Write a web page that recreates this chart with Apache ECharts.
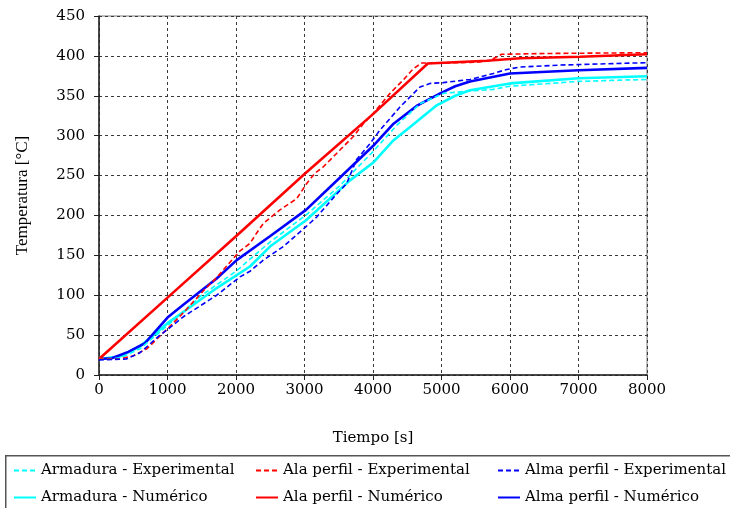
<!DOCTYPE html>
<html>
<head>
<meta charset="utf-8">
<script src="https://cdn.jsdelivr.net/npm/echarts@6/dist/echarts.min.js"></script>
<style>
  html, body { margin: 0; padding: 0; background: #ffffff; }
  #grafico { width: 730px; height: 508px; }
</style>
</head>
<body>
<div id="grafico"></div>
<script>
// Ejes
const tiempoMin = 0, tiempoMax = 8000, tiempoPaso = 1000;
const tempMin = 0, tempMax = 450, tempPaso = 50;

// Armadura - Experimental
const armaduraExpT = [0, 300, 600, 1000, 1500, 2000, 2500, 3000, 3500, 4000, 4346, 4686, 5026, 5416, 5756, 6000, 7000, 8000];
const armaduraExpV = [20, 21, 33, 62, 100, 130, 167, 199, 236, 280, 313, 340, 353, 356, 358, 362, 368, 370.5];

// Armadura - Numérico
const armaduraNumT = [0, 300, 600, 1000, 1231, 1718, 2204, 2496, 3022, 3664, 4000, 4297, 4600, 4930, 5200, 5416, 6000, 7000, 8000];
const armaduraNumV = [20, 23, 36, 65, 79, 109, 136, 161, 194, 244, 266, 294, 315, 338, 350, 357, 365.5, 372, 374.5];

// Ala perfil - Experimental
const alaExpT = [0, 300, 500, 700, 1000, 1231, 1572, 1718, 2050, 2204, 2302, 2399, 2642, 2886, 3032, 3153, 3275, 3518, 3713, 3859, 4004, 4248, 4443, 4589, 4710, 5000, 5500, 5700, 5879, 6500, 8000];
const alaExpV = [20, 20, 24, 33, 58, 78, 110, 122, 155, 165, 178, 190, 207, 221, 240, 253, 261, 282, 299, 315, 328, 353, 370, 384, 391, 391, 392, 394, 402, 403, 404];

// Ala perfil - Numérico
const alaNumT = [0, 1000, 2000, 3000, 4000, 4800, 5660, 6146, 7022, 8000];
const alaNumV = [20, 97, 174, 252, 327, 390.5, 394, 397, 399, 402];

// Alma perfil - Experimental
const almaExpT = [0, 400, 600, 890, 1000, 1231, 1718, 2058, 2204, 2399, 2691, 3022, 3178, 3450, 3616, 3760, 3956, 4102, 4394, 4686, 4832, 5026, 5416, 5756, 5952, 6146, 6730, 8000];
const almaExpV = [19, 20, 28, 50, 57, 73, 100, 123, 130, 144, 161, 186, 198, 225, 240, 270, 290, 307, 336, 361, 365.5, 366.5, 370.5, 378, 383, 386, 388.5, 391.5];

// Alma perfil - Numérico
const almaNumT = [0, 185, 428, 672, 1000, 1231, 1718, 2010, 2496, 3022, 3500, 4000, 4300, 4650, 4980, 5200, 5416, 6000, 7000, 8000];
const almaNumV = [20, 21, 29, 40, 72, 88, 121, 144, 174, 207, 246, 287, 315, 338, 353, 362, 368, 378, 382, 385];

const pares = (ts, vs) => ts.map((t, i) => [t, vs[i]]);

const CIAN = '#00FFFF', ROJO = '#FF0000', AZUL = '#0000FF';
const fuente = 'DejaVu Serif';

function serie(nombre, ts, vs, color, discontinua) {
  return {
    name: nombre,
    type: 'line',
    data: pares(ts, vs),
    symbol: 'none',
    smooth: false,
    animation: false,
    color: color,
    lineStyle: discontinua
      ? { color: color, width: 1.6, type: [5, 3] }
      : { color: color, width: 2.6, type: 'solid' },
    z: discontinua ? 3 : 2
  };
}

// Cada columna de la leyenda: experimental arriba, numérico abajo
function columna(x, nombres) {
  return {
    orient: 'vertical',
    left: x,
    top: 463,
    padding: 0,
    height: 45,
    itemWidth: 22,
    itemHeight: 14,
    itemGap: 12,
    selectedMode: false,
    itemStyle: { opacity: 0 },
    textStyle: { fontFamily: fuente, fontSize: 15, color: '#000' },
    data: nombres
  };
}

const sinSeparador = v => String(v);

const chart = echarts.init(document.getElementById('grafico'), null, { renderer: 'canvas' });
chart.setOption({
  backgroundColor: '#ffffff',
  animation: false,
  grid: {
    left: 99, right: 83, top: 16, bottom: 133,
    show: true, borderColor: '#7a7a7a', borderWidth: 1, backgroundColor: 'transparent'
  },
  xAxis: {
    type: 'value',
    min: tiempoMin, max: tiempoMax, interval: tiempoPaso,
    name: 'Tiempo [s]',
    nameLocation: 'middle',
    nameGap: 56,
    nameTextStyle: { fontFamily: fuente, fontSize: 15, color: '#000' },
    axisLine: { show: true, onZero: false, lineStyle: { color: '#222', width: 1.5 } },
    axisTick: { show: true, inside: false, length: 5, lineStyle: { color: '#222' } },
    axisLabel: { margin: 8, fontFamily: fuente, fontSize: 15, color: '#000', formatter: sinSeparador },
    splitLine: { show: true, lineStyle: { color: '#3a3a3a', width: 1, type: [3, 3] } }
  },
  yAxis: {
    type: 'value',
    min: tempMin, max: tempMax, interval: tempPaso,
    name: 'Temperatura [°C]',
    nameLocation: 'middle',
    nameGap: 68,
    nameRotate: 90,
    nameTextStyle: { fontFamily: 'Liberation Serif', fontSize: 17, color: '#000' },
    axisLine: { show: true, onZero: false, lineStyle: { color: '#222', width: 1.5 } },
    axisTick: { show: true, inside: false, length: 5, lineStyle: { color: '#222' } },
    axisLabel: { margin: 14, fontFamily: fuente, fontSize: 15, color: '#000', formatter: sinSeparador },
    splitLine: { show: true, lineStyle: { color: '#3a3a3a', width: 1, type: [3, 3] } }
  },
  legend: [
    columna(13, ['Armadura - Experimental', 'Armadura - Numérico']),
    columna(255, ['Ala perfil - Experimental', 'Ala perfil - Numérico']),
    columna(497, ['Alma perfil - Experimental', 'Alma perfil - Numérico'])
  ],
  graphic: [{
    type: 'rect',
    left: 5, top: 455,
    shape: { width: 740, height: 70 },
    style: { fill: 'transparent', stroke: '#555', lineWidth: 1.5 },
    silent: true
  }],
  series: [
    serie('Armadura - Numérico', armaduraNumT, armaduraNumV, CIAN, false),
    serie('Alma perfil - Numérico', almaNumT, almaNumV, AZUL, false),
    serie('Ala perfil - Numérico', alaNumT, alaNumV, ROJO, false),
    serie('Armadura - Experimental', armaduraExpT, armaduraExpV, CIAN, true),
    serie('Ala perfil - Experimental', alaExpT, alaExpV, ROJO, true),
    serie('Alma perfil - Experimental', almaExpT, almaExpV, AZUL, true)
  ]
});
</script>
</body>
</html>
